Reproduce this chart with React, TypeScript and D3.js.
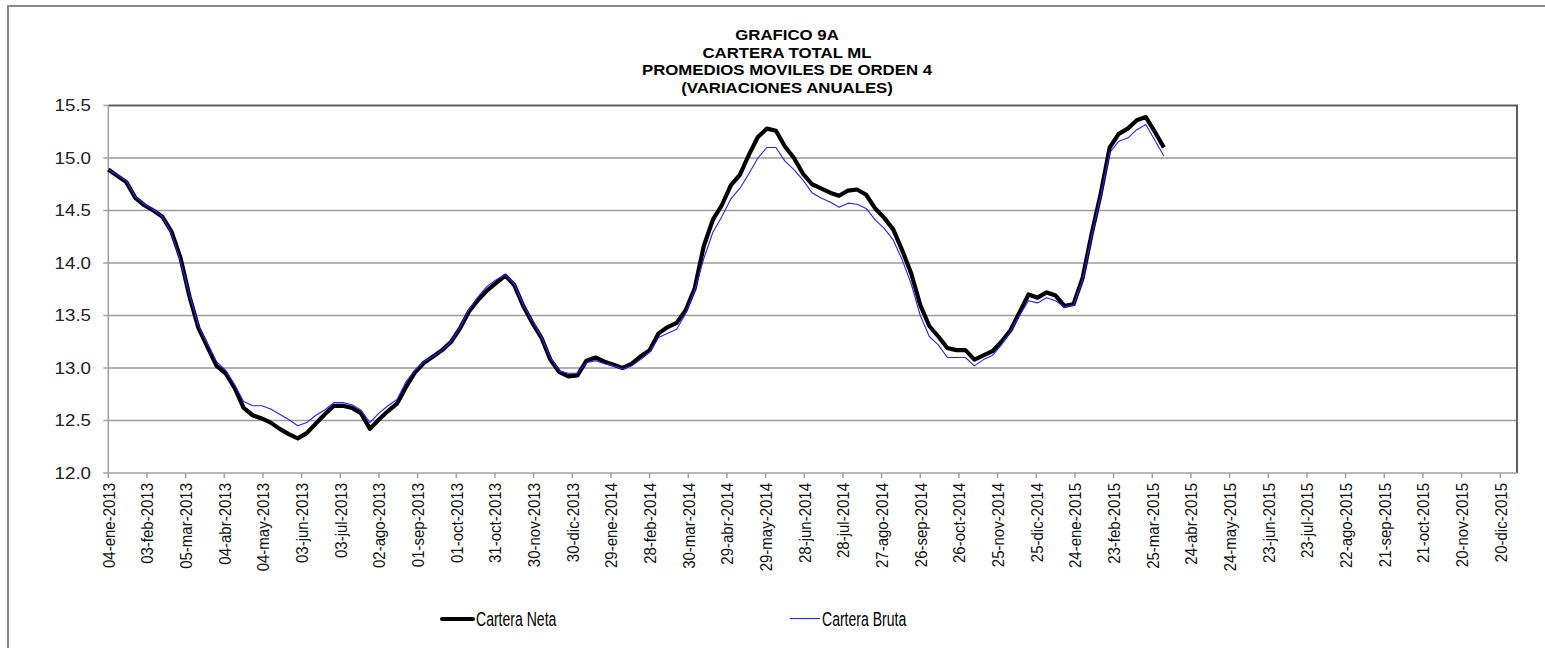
import * as d3 from "d3";

const WIDTH = 1545;
const HEIGHT = 648;
const PLOT = { left: 108.3, right: 1517, top: 105.5, bottom: 473 };

const TITLE_LINES = [
  "GRAFICO 9A",
  "CARTERA TOTAL ML",
  "PROMEDIOS MOVILES DE ORDEN 4",
  "(VARIACIONES ANUALES)",
];

// weekly series, first observation 04-ene-2013
const START = "04-ene-2013";

const cartera_neta = [
  14.89, 14.83, 14.77, 14.62, 14.55, 14.5, 14.44, 14.3, 14.05, 13.68,
  13.38, 13.2, 13.02, 12.95, 12.81, 12.62, 12.55, 12.52, 12.48, 12.42,
  12.37, 12.33, 12.38, 12.47, 12.56, 12.64, 12.64, 12.62, 12.57, 12.42,
  12.51, 12.59, 12.66, 12.82, 12.96, 13.05, 13.11, 13.17, 13.25, 13.38,
  13.54, 13.65, 13.74, 13.81, 13.88, 13.79, 13.59, 13.43, 13.29, 13.08,
  12.96, 12.92, 12.93, 13.07, 13.1, 13.06, 13.03, 13.0, 13.04, 13.11,
  13.17, 13.33, 13.39, 13.43, 13.55, 13.76, 14.16, 14.41, 14.55, 14.74,
  14.84, 15.03, 15.2, 15.28, 15.26, 15.11, 15.0, 14.85, 14.75, 14.71,
  14.67, 14.64, 14.69, 14.7, 14.65, 14.52, 14.43, 14.32, 14.12, 13.9,
  13.6, 13.4, 13.3, 13.19, 13.17, 13.17, 13.08, 13.12, 13.16, 13.25,
  13.36, 13.53, 13.7, 13.67, 13.72, 13.69, 13.59, 13.61, 13.86, 14.28,
  14.66, 15.1, 15.23, 15.28, 15.36, 15.39, 15.25, 15.1,
];

const cartera_bruta = [
  14.89, 14.84, 14.78, 14.63, 14.56, 14.51, 14.44, 14.28, 14.02, 13.7,
  13.4, 13.23, 13.06, 12.98, 12.84, 12.68, 12.64, 12.64, 12.61, 12.56,
  12.51, 12.45, 12.48, 12.55, 12.6, 12.67, 12.67, 12.65, 12.6, 12.48,
  12.57, 12.64, 12.7, 12.87, 12.98, 13.06, 13.11, 13.17, 13.25, 13.39,
  13.56, 13.68, 13.78, 13.84, 13.89, 13.8, 13.6, 13.45, 13.3, 13.1,
  12.97, 12.95, 12.95, 13.05, 13.07, 13.04, 13.02, 12.99, 13.02, 13.08,
  13.15, 13.29, 13.33, 13.37, 13.52, 13.74, 14.04, 14.29, 14.44, 14.61,
  14.71, 14.85, 15.0, 15.1, 15.1, 14.97, 14.89, 14.79, 14.67, 14.62,
  14.58, 14.53, 14.57, 14.56, 14.52, 14.41, 14.33, 14.22, 14.03, 13.8,
  13.5, 13.3, 13.22, 13.1, 13.1, 13.1, 13.02, 13.08, 13.12, 13.22,
  13.35, 13.5, 13.64, 13.62, 13.67, 13.64, 13.58, 13.6, 13.84, 14.26,
  14.64, 15.05, 15.16, 15.19, 15.27, 15.32, 15.17, 15.02,
];

const yTicks = [12.0, 12.5, 13.0, 13.5, 14.0, 14.5, 15.0, 15.5];

const xTickLabels = [
  "04-ene-2013", "03-feb-2013", "05-mar-2013", "04-abr-2013", "04-may-2013",
  "03-jun-2013", "03-jul-2013", "02-ago-2013", "01-sep-2013", "01-oct-2013",
  "31-oct-2013", "30-nov-2013", "30-dic-2013", "29-ene-2014", "28-feb-2014",
  "30-mar-2014", "29-abr-2014", "29-may-2014", "28-jun-2014", "28-jul-2014",
  "27-ago-2014", "26-sep-2014", "26-oct-2014", "25-nov-2014", "25-dic-2014",
  "24-ene-2015", "23-feb-2015", "25-mar-2015", "24-abr-2015", "24-may-2015",
  "23-jun-2015", "23-jul-2015", "22-ago-2015", "21-sep-2015", "21-oct-2015",
  "20-nov-2015", "20-dic-2015",
];

const MONTHS = ["ene", "feb", "mar", "abr", "may", "jun", "jul", "ago", "sep", "oct", "nov", "dic"];

// "dd-mmm-yyyy" (spanish months) -> UTC date
const parseEs = (s: string) => {
  const [d, m, y] = s.split("-");
  return new Date(Date.UTC(+y, MONTHS.indexOf(m), +d));
};

export default function App() {
  const start = parseEs(START);
  const dates = cartera_neta.map((_, i) => d3.utcDay.offset(start, 7 * i));

  // axis runs a little past the last label (about 13 days)
  const xScale = d3
    .scaleUtc()
    .domain([start, d3.utcDay.offset(parseEs(xTickLabels[xTickLabels.length - 1]), 13)])
    .range([PLOT.left, PLOT.right]);
  const yScale = d3.scaleLinear().domain([12, 15.5]).range([PLOT.bottom, PLOT.top]);

  const line = d3
    .line<number>()
    .x((_, i) => xScale(dates[i]))
    .y((d) => yScale(d));

  const font = "'Liberation Sans', Arial, sans-serif";

  return (
    <svg
      width={WIDTH}
      height={HEIGHT}
      style={{ position: "absolute", left: 0, top: 0, background: "#fff" }}
    >
      {/* chart frame */}
      <rect x={8} y={6} width={WIDTH} height={HEIGHT} fill="#fff" stroke="#8a8a8a" strokeWidth={2} />

      {/* title */}
      {TITLE_LINES.map((t, i) => (
        <text
          key={t}
          transform={`translate(787,${40 + i * 17.6}) scale(1.2,1)`}
          textAnchor="middle"
          fontFamily={font}
          fontWeight="bold"
          fontSize={14}
          fill="#000"
        >
          {t}
        </text>
      ))}

      {/* horizontal grid */}
      {yTicks.slice(1, -1).map((v) => (
        <line key={v} x1={PLOT.left} x2={PLOT.right} y1={yScale(v)} y2={yScale(v)} stroke="#9a9a9a" strokeWidth={1.4} />
      ))}

      {/* plot border top / right */}
      <path
        d={`M${PLOT.left},${yScale(15.5)}H${PLOT.right}V${PLOT.bottom}`}
        fill="none"
        stroke="#5f5f5f"
        strokeWidth={2}
      />

      {/* axes */}
      <line x1={PLOT.left} x2={PLOT.left} y1={PLOT.top} y2={PLOT.bottom} stroke="#a0a0a0" strokeWidth={1.5} />
      <line x1={PLOT.left} x2={PLOT.right} y1={PLOT.bottom} y2={PLOT.bottom} stroke="#a0a0a0" strokeWidth={1.5} />

      {/* y ticks + labels */}
      {yTicks.map((v) => (
        <g key={v}>
          <line x1={PLOT.left - 5} x2={PLOT.left} y1={yScale(v)} y2={yScale(v)} stroke="#a0a0a0" strokeWidth={1.5} />
          <text
            transform={`translate(91,${yScale(v)}) scale(1.17,1)`}
            textAnchor="end"
            dominantBaseline="central"
            fontFamily={font}
            fontSize={16}
            fill="#222"
          >
            {v.toFixed(1)}
          </text>
        </g>
      ))}

      {/* x ticks + rotated labels */}
      {xTickLabels.map((lab) => {
        const x = xScale(parseEs(lab));
        return (
          <g key={lab}>
            <line x1={x} x2={x} y1={PLOT.bottom} y2={PLOT.bottom + 5} stroke="#a0a0a0" strokeWidth={1.5} />
            <text
              transform={`translate(${x},${PLOT.bottom + 10}) scale(1.15,1) rotate(-90)`}
              textAnchor="end"
              dominantBaseline="central"
              fontFamily={font}
              fontSize={15}
              fill="#111"
            >
              {lab}
            </text>
          </g>
        );
      })}

      {/* series */}
      <path d={line(cartera_neta) ?? ""} fill="none" stroke="#000" strokeWidth={4.2} strokeLinejoin="round" />
      <path d={line(cartera_bruta) ?? ""} fill="none" stroke="#2424ff" strokeWidth={1.1} strokeLinejoin="round" />

      {/* legend */}
      <line x1={442} x2={473} y1={619} y2={619} stroke="#000" strokeWidth={4} strokeLinecap="round" />
      <text transform="translate(476,626) scale(0.72,1)" fontFamily={font} fontSize={19.5} fill="#000">
        Cartera Neta
      </text>
      <line x1={790} x2={820} y1={618.5} y2={618.5} stroke="#2424ff" strokeWidth={1.1} />
      <text transform="translate(822,626) scale(0.72,1)" fontFamily={font} fontSize={19.5} fill="#000">
        Cartera Bruta
      </text>
    </svg>
  );
}
